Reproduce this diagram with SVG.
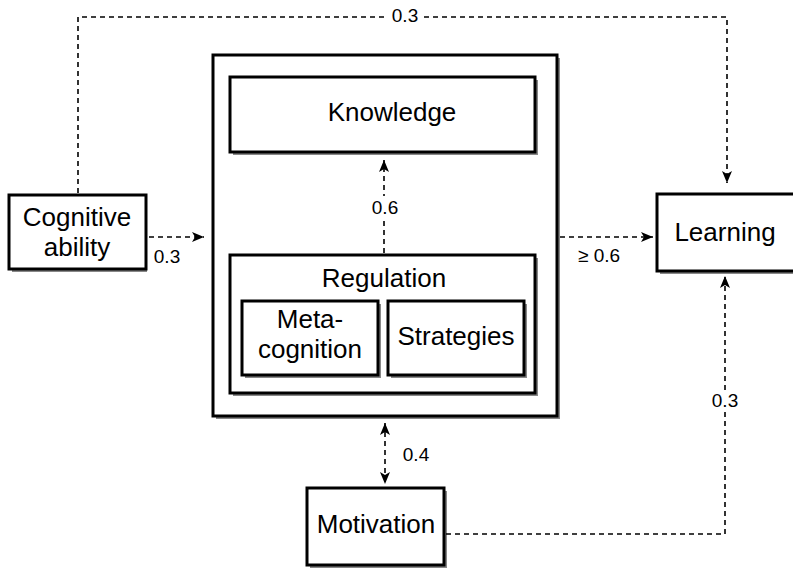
<svg xmlns="http://www.w3.org/2000/svg" width="793" height="570" viewBox="0 0 793 570">
<defs>
<marker id="ah" viewBox="0 0 12 10" refX="12" refY="5" markerWidth="12" markerHeight="10" markerUnits="userSpaceOnUse" orient="auto-start-reverse">
<path d="M0,0 L12,5 L0,10 L3,5 Z" fill="#000"/>
</marker>
</defs>
<style>
.box{fill:#fff;stroke:#000;stroke-width:3}
.sh{fill:#888;stroke:none}
.t{font-family:"Liberation Sans",Arial,sans-serif;font-size:26px;fill:#000;text-anchor:middle}
.lb{font-family:"Liberation Sans",Arial,sans-serif;font-size:19px;fill:#000;text-anchor:middle}
.c{fill:none;stroke:#000;stroke-width:1.6;stroke-dasharray:5,4}
</style>
<rect width="793" height="570" fill="#fff"/>
<g id="central">
<rect class="sh" x="216" y="58" width="344" height="361"/>
<rect class="box" x="213" y="55" width="344" height="361"/>
</g>
<g id="knowledge">
<rect class="sh" x="233" y="80" width="305" height="75"/>
<rect class="box" x="230" y="77" width="305" height="75"/>
<text class="t" x="392" y="121">Knowledge</text>
</g>
<g id="regulation">
<rect class="sh" x="233" y="258" width="305" height="138"/>
<rect class="box" x="230" y="255" width="305" height="138"/>
<text class="t" x="384" y="287">Regulation</text>
</g>
<g id="metacognition">
<rect class="sh" x="245" y="304" width="136" height="74"/>
<rect class="box" x="242" y="301" width="136" height="74"/>
<text class="t" x="310" y="328">Meta-</text>
<text class="t" x="310" y="358">cognition</text>
</g>
<g id="strategies">
<rect class="sh" x="391" y="304" width="136" height="74"/>
<rect class="box" x="388" y="301" width="136" height="74"/>
<text class="t" x="456" y="345">Strategies</text>
</g>
<g id="cognitive">
<rect class="sh" x="12" y="198" width="135" height="74"/>
<rect class="box" x="9" y="195" width="137" height="74"/>
<text class="t" x="77" y="226">Cognitive</text>
<text class="t" x="77" y="256">ability</text>
</g>
<g id="learning">
<rect class="sh" x="660" y="197" width="140" height="77"/>
<rect class="box" x="657" y="194" width="140" height="77"/>
<text class="t" x="725" y="241">Learning</text>
</g>
<g id="motivation">
<rect class="sh" x="310" y="491" width="137" height="77"/>
<rect class="box" x="307" y="488" width="137" height="77"/>
<text class="t" x="376" y="533">Motivation</text>
</g>
<g id="connectors">
<path class="c" d="M78,193 V17 H727 V183" marker-end="url(#ah)"/>
<path class="c" d="M149,237 H204" marker-end="url(#ah)"/>
<path class="c" d="M384,253 V160" marker-end="url(#ah)"/>
<path class="c" d="M560,237 H653" marker-end="url(#ah)"/>
<path class="c" d="M385,423 V484" marker-start="url(#ah)" marker-end="url(#ah)"/>
<path class="c" d="M446,534 H725 V276" marker-end="url(#ah)"/>
</g>
<g id="labels">
<rect x="388" y="4" width="34" height="22" fill="#fff"/>
<text class="lb" x="405" y="22">0.3</text>
<text class="lb" x="167" y="263">0.3</text>
<rect x="368" y="196" width="34" height="22" fill="#fff"/>
<text class="lb" x="385" y="214">0.6</text>
<text class="lb" x="599" y="262">≥ 0.6</text>
<text class="lb" x="416" y="461">0.4</text>
<rect x="708" y="390" width="34" height="22" fill="#fff"/>
<text class="lb" x="725" y="407">0.3</text>
</g>
</svg>
